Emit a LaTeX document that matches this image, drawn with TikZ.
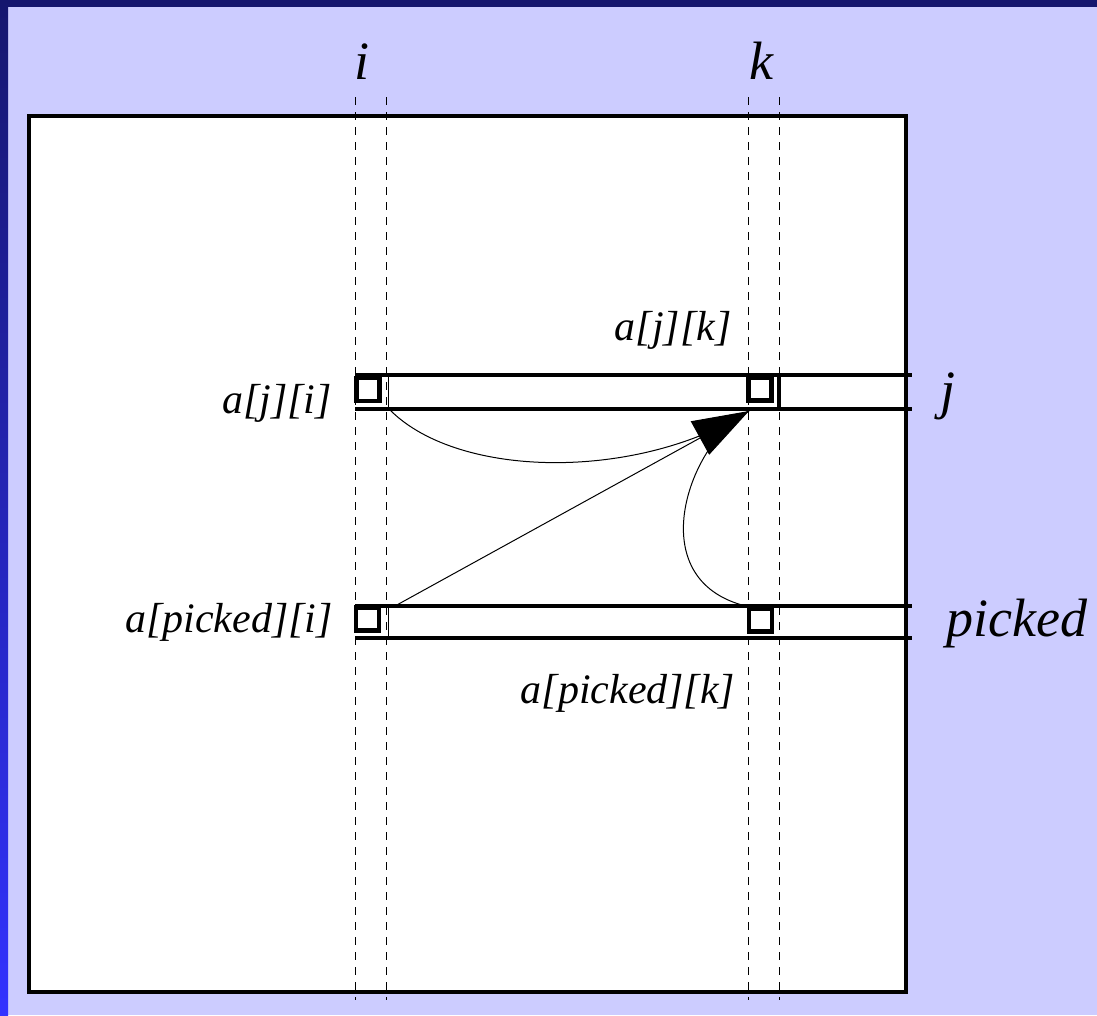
\documentclass[tikz,border=0pt]{standalone}
\usepackage{fontspec}
\setmainfont{Liberation Serif}
\newfontfamily\lblfont{Liberation Serif Italic}
\usetikzlibrary{arrows.meta}
\definecolor{bgblue}{HTML}{CCCCFF}
\definecolor{barnavy}{HTML}{15166E}
\definecolor{barblue}{HTML}{3333FF}

\tikzset{
  cell/.style={draw,line width=4.5pt,minimum size=23pt,inner sep=0pt},
  rowline/.style={line width=3.5pt},
  colline/.style={dash pattern=on 8pt off 7pt,line width=1pt},
  lbl/.style={font=\lblfont\fontsize{42}{50}\selectfont,inner sep=0pt},
  idx/.style={font=\lblfont\fontsize{54}{62}\selectfont,inner sep=0pt},
  bigtip/.style={-{Triangle[length=56pt,width=38pt]}},
}

\begin{document}
\begin{tikzpicture}[x=1pt,y=-1pt]
                \fill[bgblue] (0,0) rectangle (1097,1015);
                \fill[barnavy] (0,0) rectangle (1097,7);
                \shade[top color=barnavy,bottom color=barblue] (0,0) rectangle (8,1015);
                \useasboundingbox (0,0) rectangle (1097,1015);

                \draw[line width=4pt,fill=white] (29,116) rectangle (906,992);
                \foreach \x in {355,386,748,779}
                  \draw[colline] (\x,97) -- (\x,1000);
                \foreach \y in {375,409,606,638}
                  \draw[rowline] (355,\y) -- (912,\y);
                \draw[line width=1pt] (388,375) -- (388,409) (388,606) -- (388,638);
                \draw[rowline] (779,375) -- (779,409);

                \node[cell] (ji) at (368,389.5) {};
                \node[cell] (jk) at (760,389) {};
                \node[cell] (pi) at (367.5,619) {};
                \node[cell] (pk) at (760.5,620) {};

                \coordinate (tip) at (749,411);
                \coordinate (jiout) at (390,410);
                \coordinate (piout) at (395,606);

                \draw[line width=1pt] (jiout) .. controls (460,480) and (640,480) .. (tip);
                \draw[line width=1pt] (pk.north west) .. controls (638,580) and (690,440) .. (tip);
                \path[line width=1pt]
                (piout) edge[bigtip] (tip);

                \node[idx,anchor=base] (li) at (362,79) {i};
                \node[idx,anchor=base] (lk) at (761,79) {k};
                \node[idx,anchor=base] (lj) at (948,408) {j};
                \node[idx,anchor=base] (lpicked) at (1017,636) {picked};
                \node[lbl,anchor=base] (ljk) at (673,340) {a[j][k]};
                \node[lbl,anchor=base east] (lji) at (332,413) {a[j][i]};
                \node[lbl,anchor=base east] (lpi) at (333,632) {a[picked][i]};
                \node[lbl,anchor=base] (lpk) at (628,703) {a[picked][k]};
\end{tikzpicture}
\end{document}
